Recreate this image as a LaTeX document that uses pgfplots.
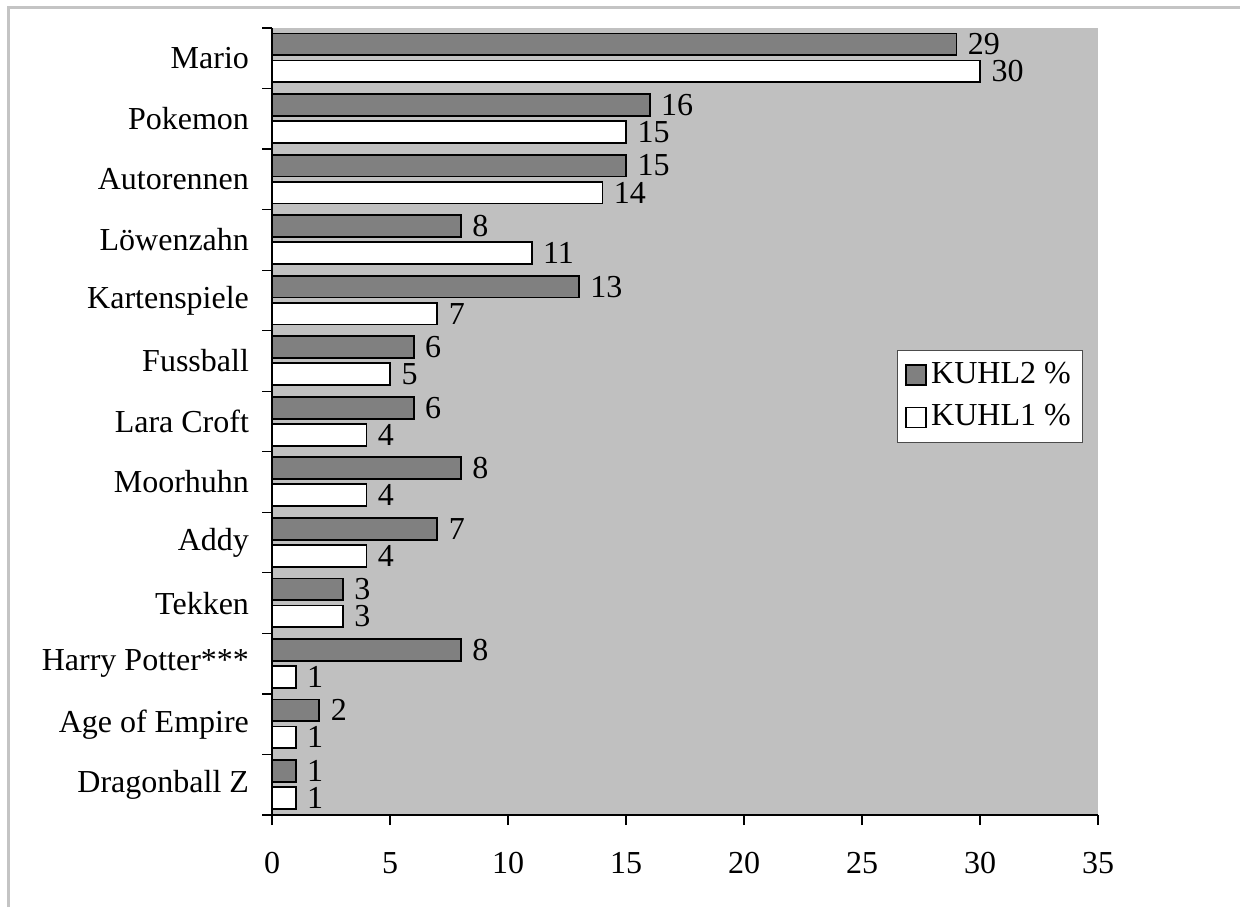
\documentclass[border=0pt]{standalone}
\usepackage{pgfplots}
\pgfplotsset{compat=1.18}
\usepackage{fontspec}
\setmainfont{Liberation Serif}
\definecolor{bgc}{HTML}{C0C0C0}
\definecolor{darkbar}{HTML}{808080}
\definecolor{framec}{HTML}{C4C4C4}
\begin{document}
\fontsize{16}{19}\selectfont
\begin{tikzpicture}
\path[use as bounding box] (0,0) rectangle (620pt,453.5pt);
\draw[framec, line width=1.5pt] (4pt,0) -- (4pt,449.5pt) -- (620pt,449.5pt);
\begin{axis}[
  at={(136pt,46pt)}, anchor=south west,
  scale only axis, width=413pt, height=393.5pt,
  xbar, bar width=10.9pt,
  xmin=0, xmax=35, ymin=-0.5, ymax=12.5,
  enlarge x limits=false, enlarge y limits=false,
  axis x line*=bottom, axis y line*=left,
  axis line style={black, line width=0.6pt},
  axis background/.style={fill=bgc},
  xtick={0,5,10,15,20,25,30,35},
  ytick={-0.5,0.5,1.5,2.5,3.5,4.5,5.5,6.5,7.5,8.5,9.5,10.5,11.5,12.5},
  y tick label as interval,
  yticklabels={Dragonball Z,Age of Empire,Harry Potter***,Tekken,Addy,Moorhuhn,Lara Croft,Fussball,Kartenspiele,Löwenzahn,Autorennen,Pokemon,Mario},
  tick align=outside, major tick length=5pt,
  tick style={black, line width=0.6pt},
  /pgf/number format/assume math mode=true,
  ticklabel style={font=\fontsize{16}{19}\selectfont},
  xticklabel style={yshift=-8pt},
  yticklabel style={xshift=-1pt},
  nodes near coords,
  every node near coord/.append style={font=\fontsize{16}{19}\selectfont, black},
  legend style={at={(0.982,0.591)}, anchor=north east, draw=black!70, fill=white,
    font=\fontsize{16}{19}\selectfont, row sep=4pt, inner sep=4pt},
  legend cell align=left,
  legend image code/.code={\draw[#1, line width=0.9pt, draw=black] (0pt,-5pt) rectangle (10pt,5pt);},
]
\addplot[fill=darkbar, draw=black, line width=0.9pt, bar shift=6.9pt] coordinates {
(1,0) (2,1) (8,2) (3,3) (7,4) (8,5) (6,6) (6,7) (13,8) (8,9) (15,10) (16,11) (29,12)};
\addplot[fill=white, draw=black, line width=0.9pt, bar shift=-6.6pt] coordinates {
(1,0) (1,1) (1,2) (3,3) (4,4) (4,5) (4,6) (5,7) (7,8) (11,9) (14,10) (15,11) (30,12)};
\legend{KUHL2 \%, KUHL1 \%}
\end{axis}
\end{tikzpicture}
\end{document}
